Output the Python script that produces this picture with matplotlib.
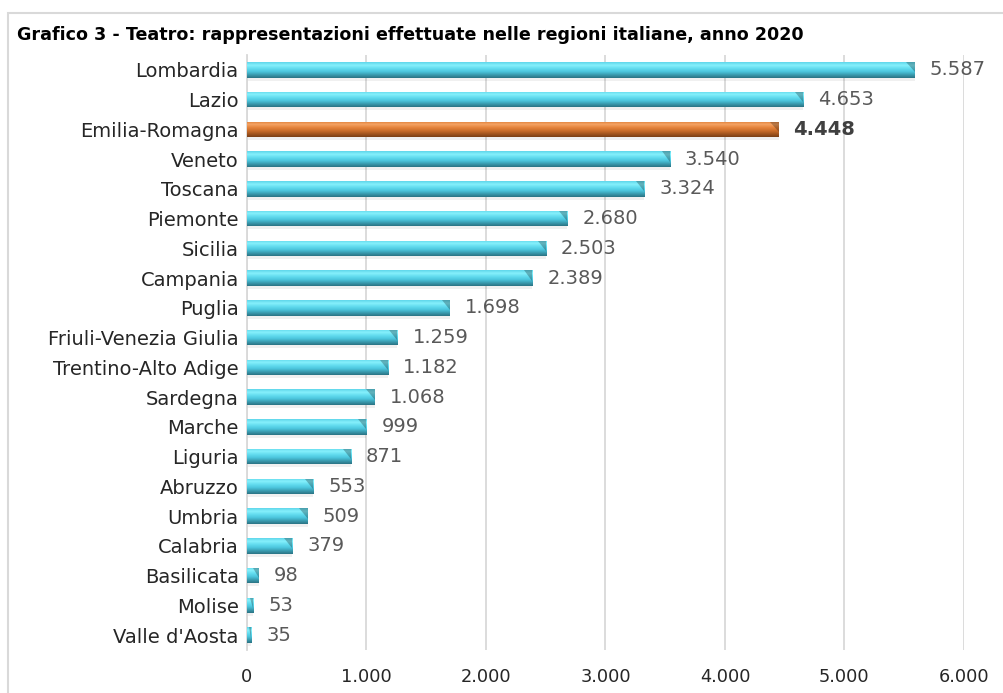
import numpy as np
import matplotlib
matplotlib.use("Agg")
import matplotlib.pyplot as plt
from matplotlib.colors import LinearSegmentedColormap
from matplotlib.patches import Rectangle, Polygon

regions = ["Lombardia", "Lazio", "Emilia-Romagna", "Veneto", "Toscana", "Piemonte",
           "Sicilia", "Campania", "Puglia", "Friuli-Venezia Giulia", "Trentino-Alto Adige",
           "Sardegna", "Marche", "Liguria", "Abruzzo", "Umbria", "Calabria", "Basilicata",
           "Molise", "Valle d'Aosta"]
values = [5587, 4653, 4448, 3540, 3324, 2680, 2503, 2389, 1698, 1259, 1182,
          1068, 999, 871, 553, 509, 379, 98, 53, 35]
highlight = "Emilia-Romagna"
xticks = [0, 1000, 2000, 3000, 4000, 5000, 6000]

plt.rcParams['font.family'] = ['DejaVu Sans']

# colour stops from top edge to bottom edge of each bar
blue_cmap = LinearSegmentedColormap.from_list(
    "blue3d", ["#5fd6ea", "#86f0fc", "#62dcef", "#4cc6dd", "#3a9cb0", "#2b7384"])
orange_cmap = LinearSegmentedColormap.from_list(
    "orange3d", ["#dd7d36", "#f5a364", "#e5843c", "#cc6e2b", "#a4561f", "#7a3f16"])


def fmt(v):
    return f"{v:,}".replace(",", ".")


fig = plt.figure(figsize=(10.04, 6.93), dpi=100)
ax = fig.add_axes([247 / 1004, 1 - 650 / 693, 717 / 1004, 595 / 693])

# outer chart frame
fig.patches.append(Rectangle((8 / 1004, -0.1), 1.2, 1 - 13 / 693 + 0.1,
                             transform=fig.transFigure, fill=False,
                             edgecolor="#d9d9d9", lw=1.5, zorder=0))

y = np.arange(len(regions))
h = 0.52
bevel = 70  # width of the end facet, in data units
grad = np.linspace(0, 1, 64).reshape(-1, 1)

# soft shadow under bars
ax.barh(y + 0.1, values, height=h, color="#000000", alpha=0.06, zorder=2, lw=0)

bars = ax.barh(y, values, height=h, color="#4cc6dd", zorder=3, lw=0)
for b, reg, v, yi in zip(bars, regions, values, y):
    cmap = orange_cmap if reg == highlight else blue_cmap
    im = ax.imshow(grad, cmap=cmap, aspect="auto", origin="upper",
                   extent=(0, v, yi + h / 2, yi - h / 2), zorder=4,
                   interpolation="bilinear")
    im.set_clip_path(b)
    # darker slanted facet at the bar end
    d = min(bevel, v * 0.5)
    facet = Polygon([(v - d, yi - h / 2), (v, yi - h / 2), (v, yi + h / 6)],
                    closed=True, color="#000000", alpha=0.25, lw=0, zorder=4.5)
    ax.add_patch(facet)
    facet.set_clip_path(b)
    bold = reg == highlight
    ax.text(v + 125, yi, fmt(v), va="center", ha="left",
            fontsize=14, fontweight="bold" if bold else "normal",
            color="#404040" if bold else "#595959", zorder=5)

ax.set_xlim(0, 6000)
ax.set_ylim(len(regions) - 0.5, -0.5)
ax.set_yticks(y)
ax.set_yticklabels(regions, fontsize=14, color="#262626")
ax.set_xticks(xticks)
ax.set_xticklabels([fmt(t) for t in xticks], fontsize=12.8, color="#262626")
ax.tick_params(axis="both", length=0)
ax.tick_params(axis="x", pad=13)
ax.tick_params(axis="y", pad=6)
ax.grid(axis="x", color="#d9d9d9", lw=1.3, zorder=0)
ax.set_axisbelow(True)
for s in ["top", "right", "bottom"]:
    ax.spines[s].set_visible(False)
ax.spines["left"].set_color("#d9d9d9")
ax.spines["left"].set_linewidth(1.3)

fig.text(17 / 1004, 1 - 35 / 693, "Grafico 3 - Teatro: rappresentazioni effettuate nelle regioni italiane, anno 2020",
         fontsize=12.6, fontweight="bold", color="#000000", va="center", ha="left")

fig.savefig("out.png", dpi=100)
